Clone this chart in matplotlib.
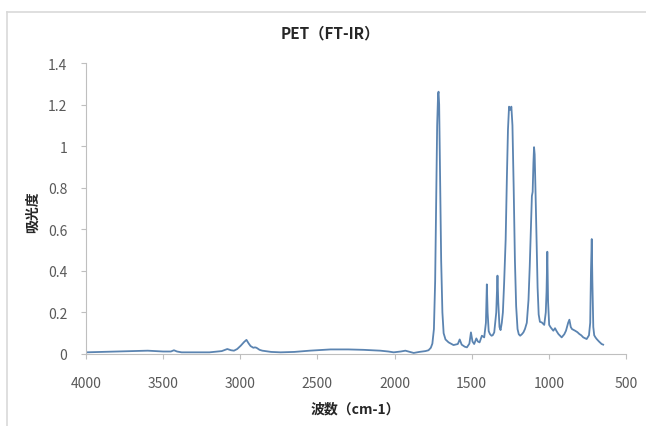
import matplotlib
matplotlib.use("Agg")
import matplotlib.pyplot as plt
from matplotlib.lines import Line2D

plt.rcParams['font.family'] = ['Noto Sans CJK JP', 'DejaVu Sans']

title = "PET（FT-IR）"
xlabel = "波数（cm-1）"
ylabel = "吸光度"
xticks = [4000, 3500, 3000, 2500, 2000, 1500, 1000, 500]
yticks = [0, 0.2, 0.4, 0.6, 0.8, 1.0, 1.2, 1.4]
ytick_labels = ["0", "0.2", "0.4", "0.6", "0.8", "1", "1.2", "1.4"]

wavenumber = [
    4000, 3900, 3800, 3700, 3600, 3500, 3450, 3430, 3410, 3380, 3300, 3200,
    3120, 3084, 3060, 3041, 3020, 2997, 2975, 2960, 2945, 2933, 2915, 2905,
    2895, 2875, 2857, 2800, 2739, 2650, 2550, 2415, 2300, 2200, 2092, 2040,
    2006, 1960, 1930, 1900, 1876, 1840, 1800, 1780, 1765, 1755, 1745, 1737,
    1730, 1724, 1718, 1715, 1711, 1705, 1698, 1690, 1682, 1670, 1650, 1618,
    1590, 1578, 1565, 1545, 1531, 1515, 1505, 1495, 1484, 1470, 1460, 1449,
    1434, 1419, 1408, 1402, 1397, 1390, 1382, 1372, 1364, 1354, 1341, 1333,
    1328, 1320, 1313, 1305, 1298, 1290, 1280, 1272, 1265, 1258, 1250, 1243,
    1236, 1228, 1220, 1212, 1203, 1195, 1186, 1175, 1165, 1155, 1143, 1132,
    1124, 1116, 1110, 1105, 1100, 1096, 1092, 1087, 1080, 1073, 1066, 1058,
    1046, 1030, 1020, 1015, 1010, 1005, 998, 988, 971, 960, 950, 938, 917,
    900, 889, 875, 867, 858, 850, 830, 815, 802, 790, 777, 755, 740, 732,
    727, 722, 718, 712, 706, 698, 690, 675, 658, 648,
]
absorbance = [
    0.008, 0.010, 0.012, 0.014, 0.016, 0.012, 0.012, 0.018, 0.012, 0.008, 0.008, 0.008,
    0.014, 0.024, 0.018, 0.016, 0.024, 0.040, 0.058, 0.068, 0.050, 0.038, 0.030, 0.032,
    0.030, 0.020, 0.016, 0.010, 0.008, 0.010, 0.016, 0.022, 0.022, 0.020, 0.016, 0.012,
    0.008, 0.012, 0.016, 0.010, 0.005, 0.010, 0.014, 0.018, 0.030, 0.050, 0.120, 0.350,
    0.750, 1.100, 1.250, 1.262, 1.200, 0.850, 0.450, 0.200, 0.100, 0.070, 0.056, 0.043,
    0.048, 0.070, 0.045, 0.035, 0.032, 0.050, 0.104, 0.060, 0.048, 0.075, 0.060, 0.056,
    0.088, 0.080, 0.150, 0.335, 0.200, 0.110, 0.096, 0.088, 0.090, 0.104, 0.200, 0.377,
    0.250, 0.130, 0.115, 0.150, 0.200, 0.340, 0.550, 0.850, 1.080, 1.190, 1.175, 1.190,
    1.100, 0.800, 0.450, 0.230, 0.120, 0.095, 0.088, 0.095, 0.104, 0.120, 0.150, 0.260,
    0.420, 0.620, 0.760, 0.780, 0.920, 0.995, 0.960, 0.800, 0.550, 0.320, 0.190, 0.155,
    0.152, 0.140, 0.200, 0.300, 0.492, 0.250, 0.140, 0.128, 0.112, 0.124, 0.110, 0.096, 0.080,
    0.095, 0.112, 0.150, 0.165, 0.130, 0.120, 0.112, 0.105, 0.096, 0.090, 0.080, 0.072, 0.090, 0.150,
    0.400, 0.553, 0.350, 0.130, 0.090, 0.080, 0.072, 0.060, 0.048, 0.045,
]

W, H = 646, 427
fig = plt.figure(figsize=(W / 100, H / 100), dpi=100)
fig.patch.set_facecolor('white')

# chart-area border (top and left visible)
border = '#d9d9d9'
fig.add_artist(Line2D([7 / W, 1.0], [1 - 12.5 / H, 1 - 12.5 / H], color=border, lw=1.2))
fig.add_artist(Line2D([7 / W, 7 / W], [1 - 12.5 / H, 0.0], color=border, lw=1.2))

ax = fig.add_axes([86 / W, (H - 355) / H, 540 / W, 291 / H])
ax.plot(wavenumber, absorbance, color='#5b84b1', lw=1.3)

ax.set_xlim(4000, 500)
ax.set_ylim(0, 1.4)
ax.set_xticks(xticks)
ax.set_xticklabels([str(t) for t in xticks])
ax.set_yticks(yticks)
ax.set_yticklabels(ytick_labels)

for s in ['top', 'right']:
    ax.spines[s].set_visible(False)
for s in ['left', 'bottom']:
    ax.spines[s].set_color('#bfbfbf')
    ax.spines[s].set_linewidth(0.8)

ax.tick_params(axis='both', colors='#bfbfbf', labelcolor='#595959', labelsize=10,
               length=3.5, width=0.8, direction='out')
ax.tick_params(axis='x', pad=12)
ax.tick_params(axis='y', pad=10)

fig.text(330 / W, 1 - 33 / H, title, ha='center', va='center', fontsize=11,
         fontweight='bold', color='#262626')
fig.text(355 / W, 1 - 410 / H, xlabel, ha='center', va='center', fontsize=10,
         fontweight='bold', color='#262626')
fig.text(33 / W, 1 - 212 / H, ylabel, ha='center', va='center', fontsize=10,
         fontweight='bold', color='#262626', rotation=90)

fig.savefig('out.png', dpi=100, facecolor='white')
